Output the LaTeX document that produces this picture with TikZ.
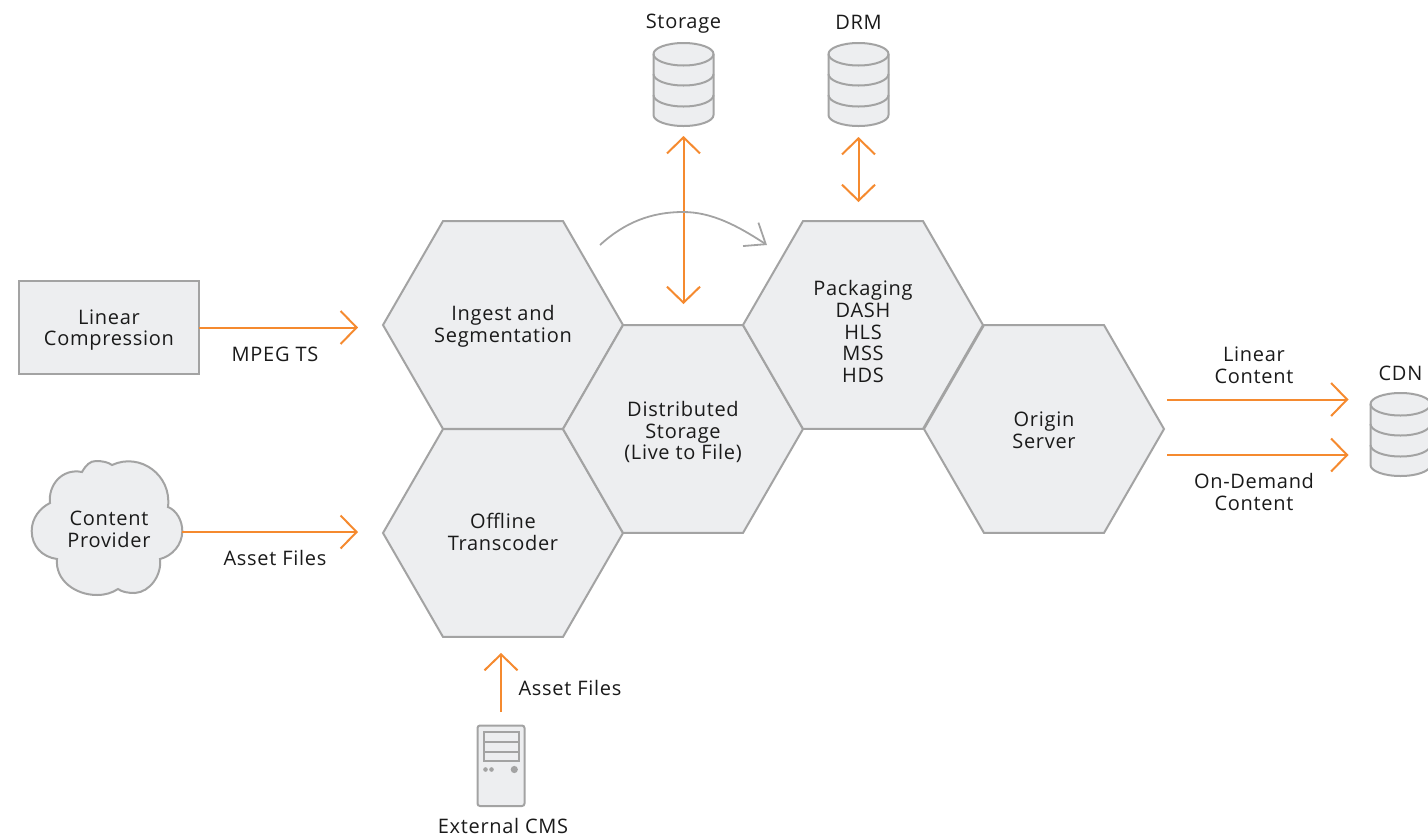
\documentclass[tikz,border=0pt]{standalone}
\usepackage{fontspec}
\setmainfont[LetterSpace=3.5]{Open Sans}
\usetikzlibrary{arrows.meta,shapes.geometric,calc}
\definecolor{hexfill}{HTML}{EDEEF0}
\definecolor{hexline}{HTML}{A3A3A3}
\definecolor{flow}{HTML}{F58A2F}
\definecolor{ink}{HTML}{1A1A1A}
\tikzset{
  txt/.style={font=\fontsize{20}{21.7}\selectfont,text=ink,align=center,inner sep=0pt,outer sep=0pt},
  hexa/.style={regular polygon,regular polygon sides=6,minimum size=240pt,inner sep=0pt,outer sep=0pt,draw=hexline,fill=hexfill,line width=2pt},
  shapeline/.style={draw=hexline,fill=hexfill,line width=2pt},
  flowline/.style={draw=flow,line width=2pt,-{Straight Barb[length=16pt,width=33pt,line width=2pt]}},
  flowboth/.style={draw=flow,line width=2pt,{Straight Barb[length=16pt,width=33pt,line width=2pt]}-{Straight Barb[length=16pt,width=33pt,line width=2pt]}},
  curveline/.style={draw=hexline,line width=1.8pt,-{Straight Barb[length=18pt,width=28pt,line width=1.8pt]}},
  ghost/.style={inner sep=0pt,outer sep=0pt}
}
\newcommand{\dbcyl}[3]{% name, x, top y
  \begin{scope}[shift={(#2,#3)}]
    \path[shapeline] (-30,11) -- (-30,72) arc[start angle=180,end angle=0,x radius=30,y radius=11] -- (30,11) arc[start angle=0,end angle=-180,x radius=30,y radius=11] -- cycle;
    \draw[hexline,line width=2pt] (-30,11) arc[start angle=180,end angle=0,x radius=30,y radius=11.5];
    \draw[hexline,line width=2pt] (-30,31) arc[start angle=180,end angle=0,x radius=30,y radius=11.5];
    \draw[hexline,line width=2pt] (-30,52) arc[start angle=180,end angle=0,x radius=30,y radius=11.5];
  \end{scope}
  \node[ghost,minimum width=60pt,minimum height=83pt] (#1) at (#2,#3+41.5) {};
}
\begin{document}
\begin{tikzpicture}[x=1pt,y=-1pt]
\useasboundingbox (0,0) rectangle (1428,839);

% hexagons
\node[hexa] (ingest) at (503,325) {};
\node[hexa] (offline) at (503,533) {};
\node[hexa] (dist) at (683,429) {};
\node[hexa] (pack) at (863,325) {};
\node[hexa] (origin) at (1044,429) {};
\node[txt] (ingesttxt) at (503,326.5) {Ingest and\\Segmentation};
\node[txt] (offlinetxt) at (503,532) {Offline\\Transcoder};
\node[txt] (disttxt) at (683,432) {Distributed\\Storage\\(Live to File)};
\node[txt] (origintxt) at (1044,430.5) {Origin\\Server};
\node[txt] (packtxt) at (863,331.5) {Packaging\\DASH\\HLS\\MSS\\HDS};

% linear compression
\node[shapeline,minimum width=180pt,minimum height=93pt,inner sep=0pt,outer sep=0pt] (linear) at (109,327.5) {};
\node[txt] (lineartxt) at (109,330) {Linear\\Compression};

% cloud
\path[shapeline] (168,507) .. controls (176,510) and (182.3,520) .. (182.3,531)
  .. controls (182.3,545) and (172,556) .. (160,559)
  .. controls (162,575) and (150,592) .. (135,593)
  .. controls (128,593) and (122,592) .. (118,589)
  .. controls (112,593) and (105,595) .. (97,595)
  .. controls (75,595) and (55,580) .. (57,559)
  .. controls (42,557) and (31.7,546) .. (31.7,531)
  .. controls (31.7,518) and (40,508) .. (50,503)
  .. controls (48,485) and (62,468) .. (82,472)
  .. controls (86,465) and (90,461) .. (96,461)
  .. controls (102,461) and (108,462) .. (112,465)
  .. controls (140,452) and (172,475) .. (168,507) -- cycle;
\node[txt] (provider) at (109,529.5) {Content\\Provider};
\coordinate (cloudeast) at (182.3,532);

% cylinders
\dbcyl{storage}{683.5}{43}
\dbcyl{drm}{858.5}{43}
\dbcyl{cdn}{1400.5}{393}
\node[txt] (storagelbl) at (683.5,24) {Storage};
\node[txt] (drmlbl) at (858.5,22) {DRM};
\node[txt] (cdnlbl) at (1400.5,373) {CDN};

% server
\path[shapeline,rounded corners=2.5pt] (477.5,725.5) rectangle (524.5,806);
\path[shapeline] (484,732) rectangle (518.5,761);
\draw[hexline,line width=2pt] (484,742) -- (518.5,742) (484,751.5) -- (518.5,751.5);
\fill[hexline] (485.5,769.5) circle[radius=2.3] (491.5,769.5) circle[radius=2.3] (514.3,769.5) circle[radius=3.6];
\node[ghost,minimum width=47pt,minimum height=81pt] (cms) at (501,765.5) {};
\node[txt] (cmslbl) at (503,826) {External CMS};

% labels
\node[txt] (mpeg) at (275,354) {MPEG TS};
\node[txt] (asset1) at (275,558) {Asset Files};
\node[txt] (asset2) at (570,688) {Asset Files};
\node[txt] (lincont) at (1254,365.5) {Linear\\Content};
\node[txt] (odcont) at (1254,492) {On-Demand\\Content};

% connectors
\draw[flowline,shorten >=25pt] (linear.east) -- (linear.east -| ingest.west);
\draw[flowline,shorten >=25pt] (cloudeast) -- (cloudeast -| offline.west);
\draw[flowline] ([yshift=13pt]cms.north) -- ([yshift=-16pt]offline.south -| cms.north);
\draw[flowboth,shorten <=10pt,shorten >=21pt] (storage.south) -- (storage.south |- dist.north);
\draw[flowboth,shorten <=11pt,shorten >=19pt] (drm.south) -- (drm.south |- pack.north);
\coordinate (outa) at (1167,399.5);
\coordinate (outb) at (1167,455);
\draw[flowline,shorten >=22pt] (outa) -- (outa -| cdn.west) ;
\draw[flowline,shorten >=22pt] (outb) -- (outb -| cdn.west);
\coordinate (curvea) at (600,245);
\coordinate (curveb) at (767,245);
\draw[curveline] (curvea) .. controls (625,222) and (652,212) .. (683,212) .. controls (712,212) and (738,226) .. (curveb);
\end{tikzpicture}
\end{document}
